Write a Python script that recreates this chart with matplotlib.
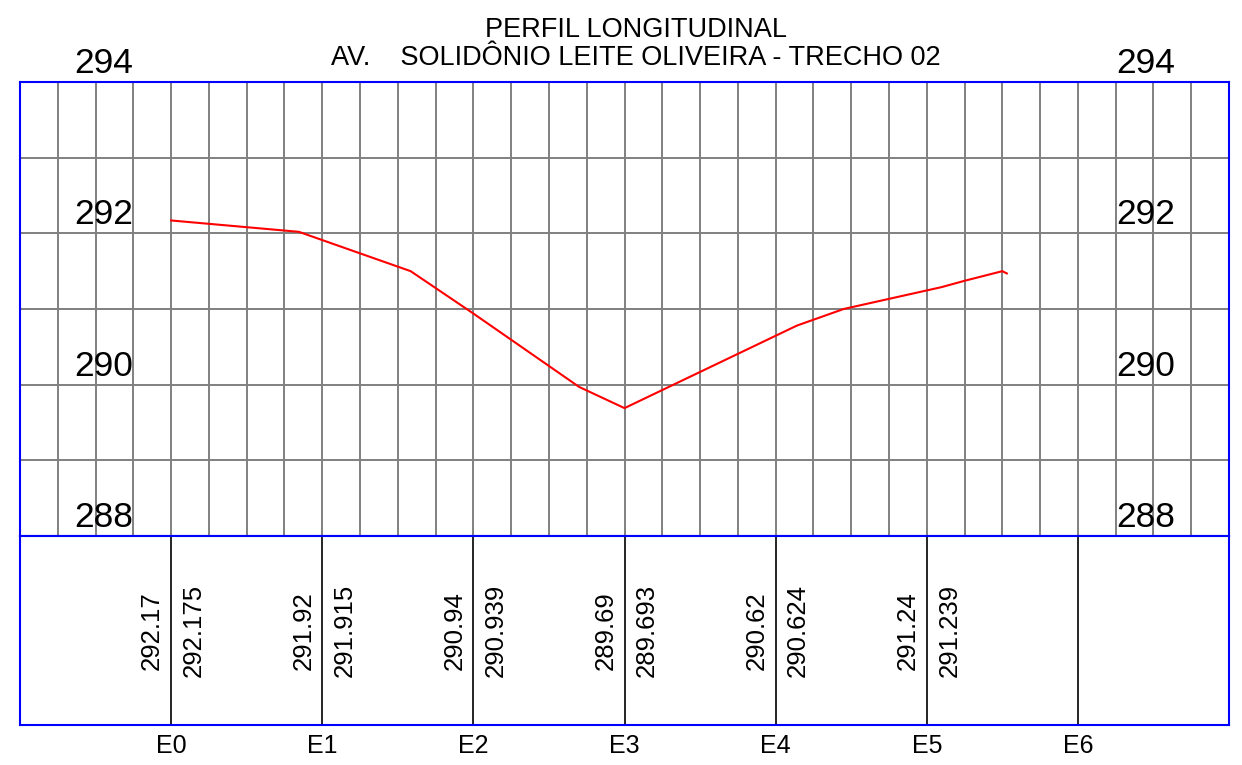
import matplotlib
matplotlib.use("Agg")
import matplotlib.pyplot as plt
import numpy as np

plt.rcParams['font.family'] = ['Liberation Sans', 'DejaVu Sans']

estacas = ['E0', 'E1', 'E2', 'E3', 'E4', 'E5', 'E6']
dist_estacas = [0, 20, 40, 60, 80, 100, 120]
cota_terreno = [292.17, 291.92, 290.94, 289.69, 290.62, 291.24]
cota_projeto = [292.175, 291.915, 290.939, 289.693, 290.624, 291.239]

# vertices da linha do terreno
perfil_dist = [0, 16.9, 31.7, 40, 54, 60, 82.8, 89, 102, 104.9, 110, 110.6]
perfil_cota = [292.17, 292.02, 291.50, 290.94, 289.97, 289.69,
               290.78, 291.00, 291.29, 291.37, 291.50, 291.47]

cotas_label = [294, 292, 290, 288]

x_min, x_max = -20, 140
y_min, y_max = 288, 294
blue = '#0000ff'
grid_color = '#808080'
px_m = 1209 / (x_max - x_min)  # pixels por metro

fig = plt.figure(figsize=(12.42, 7.65), dpi=100)
ax = fig.add_axes([20 / 1242, 229 / 765, 1209 / 1242, 454 / 765])
ax_tab = fig.add_axes([20 / 1242, 40 / 765, 1209 / 1242, 189 / 765])

# grade do perfil
for xg in np.arange(x_min + 5, x_max, 5):
    ax.axvline(xg, color=grid_color, lw=1.4, zorder=1)
for yg in np.arange(y_min + 1, y_max, 1):
    ax.axhline(yg, color=grid_color, lw=1.4, zorder=1)

ax.plot(perfil_dist, perfil_cota, color='#ff0000', lw=1.5, zorder=3)

for c in cotas_label:
    ax.text(-12.85, c + 0.12, f'{c}', fontsize=25.5, ha='left', va='baseline',
            clip_on=False, zorder=2)
    ax.text(125.05, c + 0.12, f'{c}', fontsize=25.5, ha='left', va='baseline',
            clip_on=False, zorder=2)

ax.set_xlim(x_min, x_max)
ax.set_ylim(y_min, y_max)
ax.set_xticks([])
ax.set_yticks([])
for sp in ax.spines.values():
    sp.set_color(blue)
    sp.set_linewidth(1.5)
    sp.set_zorder(4)

# tabela de cotas
for i, d in enumerate(dist_estacas):
    ax_tab.axvline(d, color='black', lw=1.2)
    ax_tab.text(d, -28 / 189, estacas[i], fontsize=18, ha='center', va='baseline',
                clip_on=False)
    if i < len(cota_terreno):
        ax_tab.text(d - 12 / px_m, 0.5, f'{cota_terreno[i]}', fontsize=18.5,
                    rotation=90, rotation_mode='anchor', ha='center', va='baseline')
        ax_tab.text(d + 29.5 / px_m, 0.5, f'{cota_projeto[i]}', fontsize=18.5,
                    rotation=90, rotation_mode='anchor', ha='center', va='baseline')

ax_tab.set_xlim(x_min, x_max)
ax_tab.set_ylim(0, 1)
ax_tab.set_xticks([])
ax_tab.set_yticks([])
for sp in ax_tab.spines.values():
    sp.set_color(blue)
    sp.set_linewidth(1.5)

fig.text(636 / 1242, 1 - 37 / 765, 'PERFIL LONGITUDINAL', fontsize=19.5,
         ha='center', va='baseline')
fig.text(636 / 1242, 1 - 65 / 765, 'AV.    SOLIDÔNIO LEITE OLIVEIRA - TRECHO 02',
         fontsize=19.5, ha='center', va='baseline')

fig.savefig('out.png', dpi=100)
